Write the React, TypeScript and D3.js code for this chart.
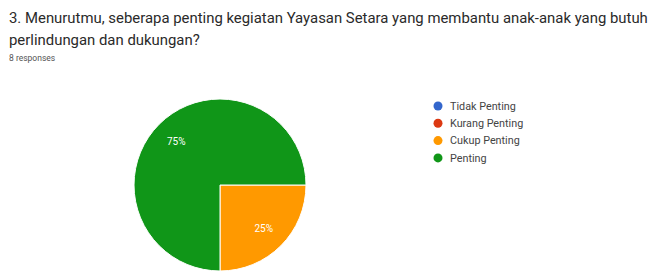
import React, { useEffect, useRef } from "react";
import * as d3 from "d3";

const titleLines = [
  "3. Menurutmu, seberapa penting kegiatan Yayasan Setara yang membantu anak-anak yang butuh",
  "perlindungan dan dukungan?",
];
const responsesLabel = "8 responses";

const categories = ["Tidak Penting", "Kurang Penting", "Cukup Penting", "Penting"];
const counts = [0, 0, 2, 6];
const colors = ["#3366cc", "#dc3912", "#ff9900", "#109618"];

const W = 672;
const H = 272;

export default function App() {
  const ref = useRef<SVGSVGElement | null>(null);

  useEffect(() => {
    const svg = d3.select(ref.current);
    svg.selectAll("*").remove();

    // title
    const title = svg.append("g").attr("font-family", "Roboto, sans-serif");
    title
      .selectAll("text.title")
      .data(titleLines)
      .enter()
      .append("text")
      .attr("class", "title")
      .attr("x", 9)
      .attr("y", (d, i) => 23 + i * 21.5)
      .attr("font-size", "14.9px")
      .attr("fill", "#2a2a2a")
      .text(d => d);

    title
      .append("text")
      .attr("x", 9)
      .attr("y", 61)
      .attr("font-size", "8.5px")
      .attr("fill", "#555")
      .text(responsesLabel);

    // PIE
    const cx = 220;
    const cy = 185;
    const r = 86;

    const data = categories.map((c, i) => ({ name: c, value: counts[i], color: colors[i] }));
    const total = d3.sum(counts);

    const pie = d3
      .pie<any>()
      .sort(null)
      .value(d => d.value)
      .startAngle(Math.PI / 2)
      .endAngle(Math.PI / 2 + Math.PI * 2);

    const arc = d3.arc<any>().innerRadius(0).outerRadius(r);
    const labelArc = d3.arc<any>().innerRadius(r * 0.72).outerRadius(r * 0.72);

    const g = svg.append("g").attr("transform", `translate(${cx},${cy})`);
    const arcs = pie(data).filter(d => d.data.value > 0);

    g.selectAll("path")
      .data(arcs)
      .enter()
      .append("path")
      .attr("d", arc)
      .attr("fill", d => d.data.color)
      .attr("stroke", "#fff")
      .attr("stroke-width", 1);

    g.selectAll("text")
      .data(arcs)
      .enter()
      .append("text")
      .attr("transform", d => `translate(${labelArc.centroid(d)})`)
      .attr("text-anchor", "middle")
      .attr("dy", "0.35em")
      .attr("font-family", "Roboto, sans-serif")
      .attr("font-size", "10px")
      .attr("fill", "#fff")
      .text(d => `${Math.round((d.data.value / total) * 100)}%`);

    // LEGEND
    const legend = svg
      .append("g")
      .attr("transform", "translate(438,106)")
      .attr("font-family", "Roboto, sans-serif");

    const item = legend
      .selectAll("g")
      .data(data)
      .enter()
      .append("g")
      .attr("transform", (d, i) => `translate(0,${i * 17.3})`);

    item.append("circle").attr("r", 4.5).attr("fill", d => d.color);

    item
      .append("text")
      .attr("x", 12)
      .attr("dy", "0.35em")
      .attr("font-size", "10.8px")
      .attr("fill", "#444")
      .text(d => d.name);
  }, []);

  return (
    <div style={{ position: "absolute", left: 0, top: 0, background: "#fff" }}>
      <svg ref={ref} width={W} height={H} style={{ display: "block" }} />
    </div>
  );
}
